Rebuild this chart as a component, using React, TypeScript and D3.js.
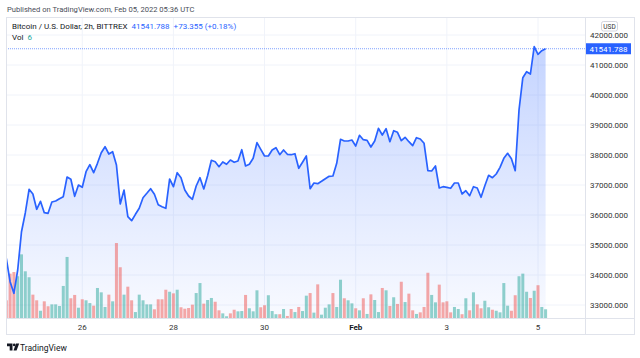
import React from 'react';
import * as d3 from 'd3';

const W = 640;
const H = 358;

// 2h closes, Jan 24 08:00 UTC -> Feb 5 04:00 UTC
const closes = [
  34557, 33777, 33390, 34167, 35443, 36067, 36857, 36700, 36190, 36457,
  36077, 36057, 36433, 36467, 36543, 36610, 37267, 37190, 36623, 37000,
  36923, 37443, 37677, 37410, 37723, 38077, 38277, 38033, 38110, 37667,
  36367, 36833, 35943, 35810, 36023, 36223, 36577, 36723, 36877, 36690,
  36343, 36277, 36223, 37200, 36943, 37410, 37243, 36833, 36633, 36523,
  36967, 37243, 36867, 37310, 37823, 37777, 37610, 37767, 37690, 37833,
  37757, 37800, 38177, 37633, 37690, 37890, 38410, 38190, 37967, 37967,
  38167, 38243, 38010, 38167, 38023, 38010, 38043, 37557, 37757, 37967,
  36877, 37067, 37043, 37123, 37210, 37290, 37300, 37723, 38523, 38467,
  38467, 38500, 38300, 38657, 38510, 38490, 38267, 38467, 38890, 38667,
  38877, 38443, 38810, 38757, 38477, 38590, 38443, 38310, 38577, 38533,
  38390, 37477, 37467, 37633, 36900, 36943, 36923, 36890, 37067, 37067,
  36700, 36810, 36643, 36943, 36900, 36590, 36977, 37323, 37243, 37367,
  37590, 37890, 38057, 37877, 37477, 39500, 40577, 40777, 40700, 41610,
  41357, 41477, 41541.788,
];

const volumes = [
  12.2, 30.6, 31.7, 28.8, 43.9, 32.2, 28.1, 16.1, 12.2, 5.0,
  11.5, 8.1, 9.4, 9.4, 8.3, 22.1, 42.1, 13.6, 15.9, 7.1,
  12.9, 12.2, 10.3, 8.5, 20.7, 17.7, 7.6, 16.1, 11.5, 51.7,
  35.0, 16.1, 21.6, 12.2, 4.1, 16.1, 12.2, 9.4, 9.4, 6.0,
  12.9, 12.9, 19.5, 18.1, 17.0, 19.5, 7.4, 6.4, 6.9, 9.2,
  17.2, 24.1, 9.9, 12.4, 13.8, 11.2, 5.3, 3.2, 1.2, 3.2,
  5.7, 4.6, 4.8, 15.9, 6.7, 4.6, 19.1, 7.4, 8.8, 15.7,
  4.8, 2.6, 2.6, 6.2, 1.4, 6.2, 4.1, 7.6, 4.8, 15.4,
  17.2, 3.7, 23.2, 2.3, 7.1, 9.4, 17.2, 7.6, 26.4, 13.6,
  12.2, 10.1, 6.7, 5.3, 13.6, 2.8, 16.3, 12.4, 4.1, 20.7,
  19.1, 8.3, 14.3, 9.7, 25.0, 11.0, 16.8, 5.3, 2.8, 3.9,
  7.6, 31.2, 15.9, 10.8, 23.0, 10.8, 11.5, 3.9, 7.6, 6.2,
  2.6, 13.6, 5.3, 17.7, 9.4, 6.7, 11.9, 7.4, 5.7, 5.0,
  3.9, 24.1, 8.5, 5.0, 15.7, 28.8, 30.6, 18.1, 13.8, 18.8,
  22.6, 7.6, 6.0,
];

// u = up bar (teal), d = down bar (red)
const volDir = (
  'ddduuuuddu' + 'dduuuuuddu' + 'duuduuudud' + 'dudduuuuud' + 'dddududddd' +
  'uuduudduud' + 'duuduuuddu' + 'uududduduu' + 'duduuuduud' + 'uudududuud' +
  'ududduddud' + 'dduudddduu' + 'dududduudu' + 'uuudduuudu' + 'duu'
).split('');

const startTime = Date.UTC(2022, 0, 24, 8);
const stepMs = 2 * 3600 * 1000;
const times = closes.map((_, i) => new Date(startTime + i * stepMs));

const priceTicks = [33000, 34000, 35000, 36000, 37000, 38000, 39000, 40000, 41000, 42000];
const dayTicks = [
  Date.UTC(2022, 0, 26), Date.UTC(2022, 0, 28), Date.UTC(2022, 0, 30),
  Date.UTC(2022, 1, 1), Date.UTC(2022, 1, 3), Date.UTC(2022, 1, 5),
];
const dayLabels = ['26', '28', '30', 'Feb', '3', '5'];

const lastPrice = 41541.788;
const change = '+73.355 (+0.18%)';
const lastVol = '6';

const FONT = 'Roboto, "Liberation Sans", Arial, sans-serif';

export default function App() {
  // pane
  const left = 6, right = 585, top = 17, bottom = 318, outerRight = 635, axisBottom = 335;

  const x = d3.scaleUtc()
    .domain([new Date(startTime), new Date(startTime + (closes.length - 1) * stepMs)])
    .range([6.3, 545.6]);
  const y = d3.scaleLinear().domain([33000, 42000]).range([305, 35]);
  const yVol = d3.scaleLinear().domain([0, 60]).range([bottom, bottom - 87]);

  const line = d3.line<number>().x((_, i) => x(times[i])).y(d => y(d));
  const area = d3.area<number>().x((_, i) => x(times[i])).y0(bottom).y1(d => y(d));

  const teal = '#26a69a';
  const red = '#ef5350';
  const blue = '#2962ff';
  const grid = '#f0f3fa';
  const border = '#e0e3eb';
  const textCol = '#131722';

  return (
    <svg width={W} height={H} style={{ position: 'absolute', left: 0, top: 0 }} fontFamily={FONT}>
      <defs>
        <linearGradient id="areaFill" gradientUnits="userSpaceOnUse" x1="0" y1={top} x2="0" y2={bottom}>
          <stop offset="0" stopColor={blue} stopOpacity={0.3} />
          <stop offset="1" stopColor={blue} stopOpacity={0.03} />
        </linearGradient>
        <clipPath id="pane">
          <rect x={left} y={top} width={right - left} height={bottom - top} />
        </clipPath>
      </defs>
      <rect width={W} height={H} fill="#fff" />

      <text x={7} y={11.5} fontSize={7.6} fill="#4a4e59">Published on TradingView.com, Feb 05, 2022 05:36 UTC</text>

      {/* grid */}
      {priceTicks.map(p => (
        <line key={p} x1={left} x2={right} y1={y(p)} y2={y(p)} stroke={grid} />
      ))}
      {dayTicks.map(t => (
        <line key={t} x1={x(new Date(t))} x2={x(new Date(t))} y1={top} y2={bottom} stroke={grid} />
      ))}

      <g clipPath="url(#pane)">
        <path d={area(closes) || ''} fill="url(#areaFill)" />
        {volumes.map((v, i) => (
          <rect key={i} x={x(times[i]) - 1.5} y={yVol(v)} width={3} height={bottom - yVol(v)}
            fill={volDir[i] === 'u' ? teal : red} fillOpacity={0.5} />
        ))}
        <path d={line(closes) || ''} fill="none" stroke={blue} strokeWidth={1.7} strokeLinejoin="round" />
        <line x1={left} x2={right} y1={y(lastPrice)} y2={y(lastPrice)} stroke={blue} strokeOpacity={0.6}
          strokeDasharray="1 1" />
      </g>

      {/* frame */}
      <rect x={left + 0.5} y={top + 0.5} width={outerRight - left - 1} height={axisBottom - top - 1}
        fill="none" stroke={border} />
      <line x1={right + 0.5} x2={right + 0.5} y1={top} y2={axisBottom} stroke={border} />
      <line x1={left} x2={outerRight} y1={bottom + 0.5} y2={bottom + 0.5} stroke={border} />

      {/* legend */}
      <text x={12} y={28.5} fontSize={8}>
        <tspan fill={textCol}>Bitcoin / U.S. Dollar, 2h, BITTREX</tspan>
        <tspan fill={blue} dx={4}>{lastPrice.toFixed(3)}</tspan>
        <tspan fill={blue} dx={4}>{change}</tspan>
      </text>
      <text x={12} y={40} fontSize={8}>
        <tspan fill={textCol}>Vol</tspan>
        <tspan fill={teal} dx={4}>{lastVol}</tspan>
      </text>

      {/* price axis */}
      {priceTicks.map(p => (
        <text key={p} x={590} y={y(p) + 3} fontSize={8} fill="#333">{p.toFixed(3)}</text>
      ))}
      <rect x={601.5} y={21.5} width={16} height={9.5} rx={2} fill="#fff" stroke="#c9ccd6" strokeWidth={0.8} />
      <text x={609.5} y={29} fontSize={6.5} fill="#333" textAnchor="middle">USD</text>
      <rect x={right + 1} y={y(lastPrice) - 5.5} width={45} height={11} fill={blue} />
      <text x={608.5} y={y(lastPrice) + 3} fontSize={8} fill="#fff" textAnchor="middle">{lastPrice.toFixed(3)}</text>

      {/* time axis */}
      {dayTicks.map((t, i) => (
        <text key={t} x={x(new Date(t))} y={330} fontSize={8} textAnchor="middle"
          fill={dayLabels[i] === 'Feb' ? textCol : '#333'} fontWeight={dayLabels[i] === 'Feb' ? 'bold' : 'normal'}>
          {dayLabels[i]}
        </text>
      ))}

      {/* logo */}
      <g fill={textCol}>
        <path d="M7,343.5 h5.5 v7 h-2.8 v-4.2 h-2.7 z" />
        <circle cx={14.2} cy={344.9} r={1.3} />
        <path d="M16,343.5 h3.2 l-2.6,7 h-3.1 z" />
      </g>
      <text x={20} y={350.5} fontSize={8.5} fill={textCol}>TradingView</text>
    </svg>
  );
}
